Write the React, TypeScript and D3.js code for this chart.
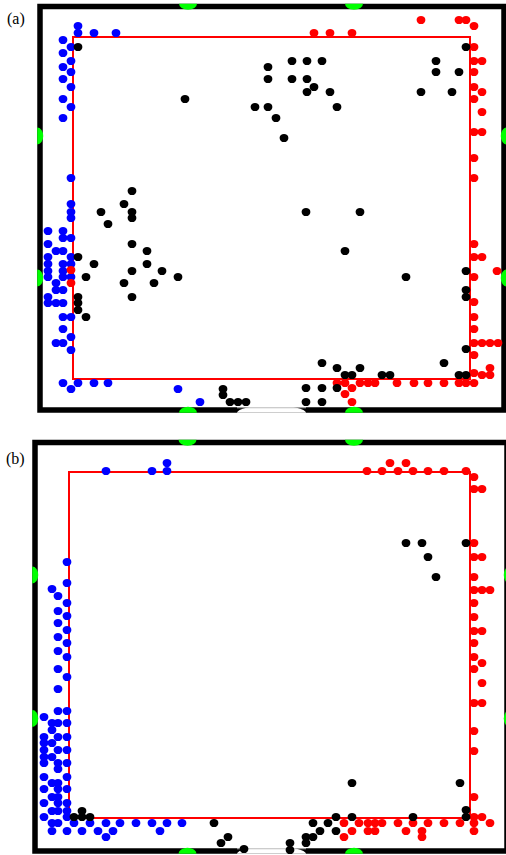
import React from 'react'
import * as d3 from 'd3'

// tracked positions, measured from the arena's top-left corner (y grows downwards)
type Pt = [number, number]

const blueA: Pt[] = [
  [5, -11], [5, -4], [21, -4], [43, -4], [-10, 3], [-2, 10], [-10, 16], [-2, 24], [-10, 30], [-2, 35],
  [-10, 42], [-2, 50], [-10, 62], [-2, 70], [-10, 81], [-2, 141], [-2, 167], [-2, 175], [-2, 181],
  [-25, 194], [-10, 194], [-10, 201], [-2, 201], [-25, 207], [-17, 214], [-10, 214], [-25, 220], [-2, 220],
  [-25, 227], [-10, 227], [-2, 227], [-25, 234], [-10, 234], [-25, 240], [-10, 240], [-2, 240],
  [-17, 246], [-17, 253], [-10, 253], [-25, 260], [-25, 266], [-17, 266], [-10, 266], [-10, 280], [-2, 280],
  [-10, 292], [-2, 300], [-17, 306], [-10, 306], [-2, 313], [-10, 346], [5, 346], [21, 346], [35, 346],
  [-2, 352], [105, 352], [127, 365],
]

const redA: Pt[] = [
  [348, -17], [386, -17], [393, -17], [401, -11], [241, -4], [257, -4], [279, -4], [401, 10], [401, 24],
  [409, 24], [401, 35], [401, 50], [409, 55], [401, 62], [409, 75], [401, 95], [409, 95], [401, 121],
  [401, 141], [401, 207], [401, 220], [409, 220], [424, 234], [401, 240], [401, 265], [401, 280], [401, 292],
  [401, 306], [409, 306], [417, 306], [425, 306], [401, 318], [417, 331], [401, 336], [409, 338], [417, 338],
  [401, 346], [393, 346], [386, 346], [371, 346], [355, 346], [341, 346], [324, 346], [302, 346], [295, 346],
  [287, 346], [272, 346], [264, 346], [279, 351], [272, 357], [279, 365], [-2, 233], [-2, 246],
]

const blackA: Pt[] = [
  [5, 10], [112, 62], [182, 70], [195, 30], [219, 24], [234, 24], [249, 24], [195, 42], [219, 42], [234, 42],
  [241, 50], [234, 55], [257, 55], [195, 70], [264, 70], [203, 81], [211, 101], [363, 24], [363, 35],
  [386, 35], [348, 55], [379, 55], [393, 10], [59, 154], [51, 167], [28, 175], [59, 175], [59, 181],
  [35, 187], [59, 207], [74, 214], [5, 220], [21, 227], [74, 227], [59, 234], [89, 234], [13, 240],
  [105, 240], [51, 246], [81, 246], [59, 260], [5, 260], [5, 266], [5, 273], [13, 280], [233, 175],
  [287, 175], [272, 214], [333, 240], [393, 234], [393, 253], [393, 260], [393, 312], [249, 326],
  [264, 331], [287, 331], [272, 338], [279, 338], [309, 338], [317, 338], [371, 326], [386, 338],
  [393, 338], [233, 351], [249, 351], [264, 351], [233, 365], [249, 365], [150, 352], [150, 358],
  [157, 365], [165, 365], [173, 365],
]

const blueB: Pt[] = [
  [37, -1], [83, -1], [98, -9], [98, -1], [-2, 90], [-2, 111], [-17, 117], [-11, 124], [-2, 131], [-11, 139],
  [-2, 144], [-11, 151], [-2, 158], [-11, 165], [-2, 171], [-11, 179], [-2, 185], [-11, 197], [-2, 205],
  [-11, 217], [-11, 239], [-2, 239], [-25, 245], [-17, 251], [-11, 251], [-2, 251], [-17, 258], [-25, 265],
  [-11, 265], [-2, 265], [-25, 271], [-17, 271], [-25, 278], [-11, 278], [-2, 278], [-25, 285], [-17, 285],
  [-25, 291], [-11, 291], [-2, 291], [-11, 297], [-25, 305], [-2, 305], [-17, 311], [-11, 311], [-25, 317],
  [-11, 317], [-2, 317], [-17, 325], [-11, 325], [-25, 331], [-11, 331], [-2, 331], [-17, 339], [-11, 339],
  [-2, 339], [-25, 345], [-2, 345], [-17, 351], [-11, 351], [5, 351], [21, 351], [37, 351], [51, 351],
  [67, 351], [83, 351], [98, 351], [113, 351], [-17, 359], [-2, 359], [13, 359], [29, 359], [44, 359],
  [91, 359], [37, 365],
]

const redB: Pt[] = [
  [298, -1], [313, -1], [321, -9], [329, -1], [337, -9], [344, -1], [359, -1], [375, -1], [397, -1],
  [405, 5], [405, 17], [413, 17], [405, 71], [405, 85], [413, 85], [405, 105], [405, 118], [413, 118],
  [421, 118], [405, 131], [405, 145], [405, 159], [413, 159], [405, 171], [405, 185], [413, 191], [405, 197],
  [413, 211], [405, 231], [413, 231], [405, 259], [405, 279], [405, 325], [405, 345], [413, 345], [405, 351],
  [421, 351], [405, 359], [391, 351], [375, 351], [359, 351], [353, 359], [353, 365], [344, 351], [337, 359],
  [329, 351], [313, 351], [306, 351], [306, 359], [299, 351], [299, 359], [290, 351], [283, 359], [275, 351],
  [275, 365],
]

const blackB: Pt[] = [
  [337, 71], [353, 71], [397, 71], [359, 85], [367, 105], [283, 311], [391, 311], [267, 345], [283, 345],
  [344, 345], [397, 338], [397, 345], [244, 351], [259, 351], [251, 359], [267, 359], [237, 365], [244, 365],
  [221, 371], [237, 371], [221, 378], [5, 345], [13, 339], [13, 345], [21, 345], [145, 351], [152, 371],
  [159, 365], [175, 377],
]

// door (green) positions along the walls, and the opening in the bottom wall, in arena units
const gatesTopA = [115, 281]
const gatesSideA = [99, 241]
const openingA: [number, number] = [164, 233]
const gatesTopB = [118.5, 285]
const gatesSideB = [103, 246.5]
const openingB: [number, number] = [168, 237]

type Panel = {
  label: string
  labelPos: [number, number]
  arena: { w: number; h: number; left: number; right: number; top: number; bottom: number }
  frame: { left: number; right: number; top: number; bottom: number }
  blue: Pt[]
  red: Pt[]
  black: Pt[]
  gatesTop: number[]
  gatesSide: number[]
  opening: [number, number]
}

const panels: Panel[] = [
  {
    label: '(a)', labelPos: [7, 24],
    arena: { w: 397, h: 342, left: 73, right: 470, top: 37, bottom: 379 },
    frame: { left: 40, right: 504, top: 6.5, bottom: 410 },
    blue: blueA, red: redA, black: blackA,
    gatesTop: gatesTopA, gatesSide: gatesSideA, opening: openingA,
  },
  {
    label: '(b)', labelPos: [6, 464],
    arena: { w: 401, h: 346, left: 69, right: 470, top: 472, bottom: 818 },
    frame: { left: 35, right: 507, top: 442.5, bottom: 851 },
    blue: blueB, red: redB, black: blackB,
    gatesTop: gatesTopB, gatesSide: gatesSideB, opening: openingB,
  },
]

const SW = 5.5

function ArenaPanel({ p, idx }: { p: Panel; idx: number }) {
  const a = p.arena
  const f = p.frame
  const x = d3.scaleLinear().domain([0, a.w]).range([a.left, a.right])
  const y = d3.scaleLinear().domain([0, a.h]).range([a.top, a.bottom])
  const clipId = `frame-clip-${idx}`
  const o = { left: f.left - SW / 2, right: f.right + SW / 2, top: f.top - SW / 2, bottom: f.bottom + SW / 2 }

  const dots = (pts: Pt[], color: string) =>
    pts.map((d, i) => (
      <ellipse key={color + i} cx={x(d[0])} cy={y(d[1])} rx={4.4} ry={4.1} fill={color} />
    ))

  return (
    <g>
      <text x={p.labelPos[0]} y={p.labelPos[1]} fontFamily="'Liberation Serif', 'Times New Roman', serif"
        fontSize={16} fill="#000">{p.label}</text>
      <defs>
        <clipPath id={clipId}>
          <rect x={o.left} y={o.top} width={o.right - o.left} height={o.bottom - o.top} />
        </clipPath>
      </defs>
      <rect x={f.left} y={f.top} width={f.right - f.left} height={f.bottom - f.top}
        fill="#fff" stroke="#000" strokeWidth={SW} />
      {/* opening in the bottom wall */}
      <g clipPath={`url(#${clipId})`}>
        <ellipse cx={(x(p.opening[0]) + x(p.opening[1])) / 2} cy={o.bottom}
          rx={(x(p.opening[1]) - x(p.opening[0])) / 2} ry={SW + 2} fill="#fff" />
        <line x1={x(p.opening[0])} x2={x(p.opening[1])} y1={f.bottom - SW / 2 + 0.5} y2={f.bottom - SW / 2 + 0.5}
          stroke="#bbb" strokeWidth={1} />
        {p.gatesTop.map((g, i) => (
          <g key={'gt' + i}>
            <ellipse cx={x(g)} cy={o.top} rx={9} ry={6} fill="#00ff00" />
            <ellipse cx={x(g)} cy={o.bottom} rx={9} ry={6} fill="#00ff00" />
          </g>
        ))}
        {p.gatesSide.map((g, i) => (
          <g key={'gs' + i}>
            <ellipse cx={o.left} cy={y(g)} rx={6} ry={8.5} fill="#00ff00" />
            <ellipse cx={o.right} cy={y(g)} rx={6} ry={8.5} fill="#00ff00" />
          </g>
        ))}
      </g>
      <rect x={a.left} y={a.top} width={a.right - a.left} height={a.bottom - a.top}
        fill="none" stroke="#ff0000" strokeWidth={2} />
      {dots(p.blue, '#0000ff')}
      {dots(p.red, '#ff0000')}
      {dots(p.black, '#000000')}
    </g>
  )
}

export default function App() {
  return (
    <svg width={506} height={855} style={{ position: 'absolute', left: 0, top: 0, background: '#fff' }}>
      {panels.map((p, i) => <ArenaPanel key={p.label} p={p} idx={i} />)}
    </svg>
  )
}
